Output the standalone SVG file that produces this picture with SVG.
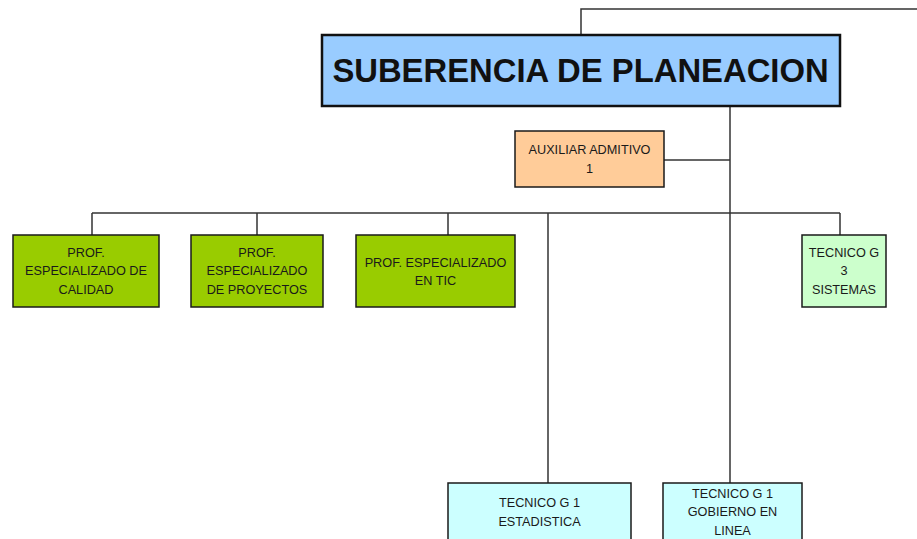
<svg xmlns="http://www.w3.org/2000/svg" width="917" height="539" viewBox="0 0 917 539">
<style>
.box{stroke:#1a1a1a;stroke-width:1.5}
.t{font-family:"Liberation Sans",Arial,sans-serif;font-size:12.7px;fill:#1a1a1a;text-anchor:middle}
.c{fill:none;stroke:#333;stroke-width:1.5}
</style>
<rect width="917" height="539" fill="#fff"/>
<g id="connectors">
<path class="c" d="M581,35 V9 H917"/>
<path class="c" d="M730,106 V483"/>
<path class="c" d="M664,160 H730"/>
<path class="c" d="M92,213 H840"/>
<path class="c" d="M92,213 V235 M257,213 V235 M448,213 V235 M840,213 V235"/>
<path class="c" d="M548,213 V483"/>
</g>
<g id="n-subgerencia">
<rect x="322" y="35" width="518" height="71" fill="#99CCFF" stroke="#111" stroke-width="2.5"/>
<text x="580.5" y="82" font-family="'Liberation Sans',Arial,sans-serif" font-size="32.8" font-weight="bold" fill="#111" text-anchor="middle">SUBERENCIA DE PLANEACION</text>
</g>
<g id="n-auxiliar">
<rect class="box" x="515" y="131" width="149" height="56" fill="#FFCC99"/>
<text class="t" x="589.5" y="154">AUXILIAR ADMITIVO</text>
<text class="t" x="589.5" y="173">1</text>
</g>
<g id="n-calidad">
<rect class="box" x="13" y="235" width="146" height="72" fill="#99CC00"/>
<text class="t" x="86" y="257">PROF.</text>
<text class="t" x="86" y="275">ESPECIALIZADO DE</text>
<text class="t" x="86" y="293.5">CALIDAD</text>
</g>
<g id="n-proyectos">
<rect class="box" x="191" y="235" width="132" height="72" fill="#99CC00"/>
<text class="t" x="257" y="257">PROF.</text>
<text class="t" x="257" y="275">ESPECIALIZADO</text>
<text class="t" x="257" y="293.5">DE PROYECTOS</text>
</g>
<g id="n-tic">
<rect class="box" x="356" y="235" width="159" height="72" fill="#99CC00"/>
<text class="t" x="435.5" y="267">PROF. ESPECIALIZADO</text>
<text class="t" x="435.5" y="284.5">EN TIC</text>
</g>
<g id="n-sistemas">
<rect class="box" x="802" y="235" width="84" height="72" fill="#CCFFCC"/>
<text class="t" x="844" y="256.5">TECNICO G</text>
<text class="t" x="844" y="275">3</text>
<text class="t" x="844" y="293.5">SISTEMAS</text>
</g>
<g id="n-estadistica">
<rect class="box" x="448" y="483" width="183" height="70" fill="#CCFFFF"/>
<text class="t" x="539.5" y="507">TECNICO G 1</text>
<text class="t" x="539.5" y="525.5">ESTADISTICA</text>
</g>
<g id="n-gobierno">
<rect class="box" x="663" y="483" width="139" height="70" fill="#CCFFFF"/>
<text class="t" x="732.5" y="498">TECNICO G 1</text>
<text class="t" x="732.5" y="516">GOBIERNO EN</text>
<text class="t" x="732.5" y="534.5">LINEA</text>
</g>
</svg>
